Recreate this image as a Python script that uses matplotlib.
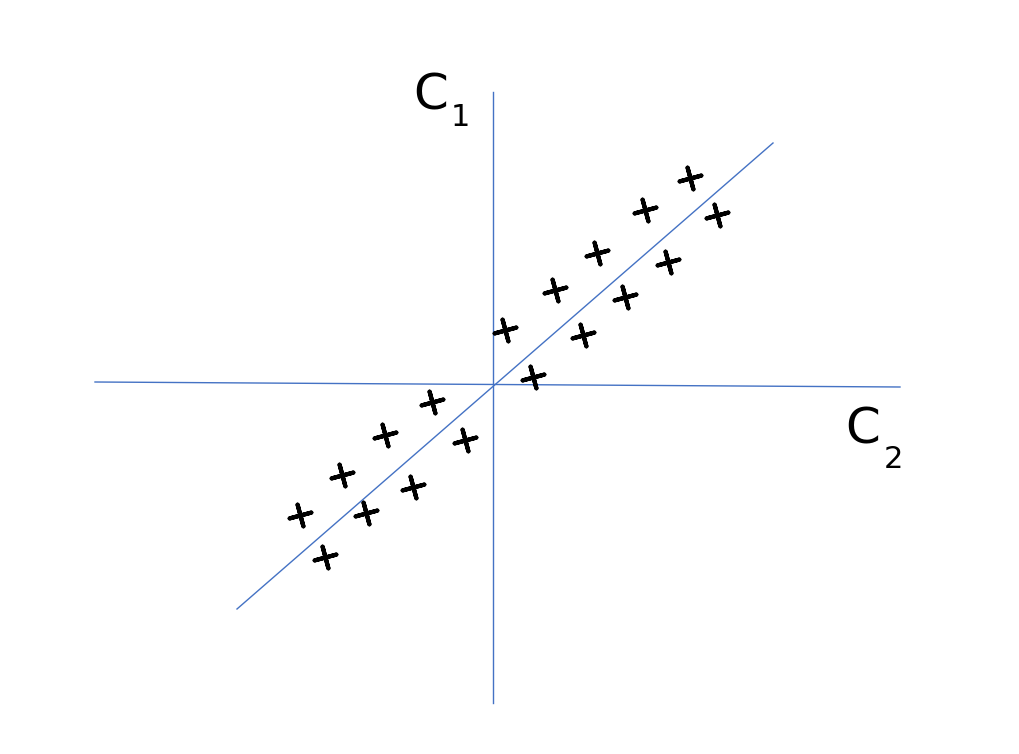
import matplotlib
matplotlib.use("Agg")
import matplotlib.pyplot as plt
import numpy as np

# sample points (C2 on x, C1 on y)
pts_x = [-1.93, -1.68, -1.51, -1.27, -1.08, -0.80, -0.61, -0.28,
         0.12, 0.40, 0.62, 0.90, 1.04, 1.32, 1.52, 1.75, 1.97, 2.24]
pts_y = [-1.32, -1.74, -0.92, -1.30, -0.52, -1.04, -0.19, -0.57,
         0.53, 0.06, 0.93, 0.48, 1.30, 0.86, 1.73, 1.21, 2.05, 1.68]

# axis lines and fitted direction
haxis_x = [-3.98, 4.07]
haxis_y = [0.01, -0.04]
vaxis_x = [0.0, 0.0]
vaxis_y = [2.91, -3.20]
diag_x = [-2.56, 2.80]
diag_y = [-2.26, 2.40]

blue = "#4472C4"

fig = plt.figure(figsize=(10.19, 7.54), dpi=100)
ax = fig.add_axes([0, 0, 1, 1])
ax.set_xlim(-4.93, 5.26)
ax.set_ylim(-3.71, 3.83)
ax.axis("off")

ax.plot(haxis_x, haxis_y, color=blue, lw=1.0)
ax.plot(vaxis_x, vaxis_y, color=blue, lw=1.0)
ax.plot(diag_x, diag_y, color=blue, lw=1.0)

ax.scatter(pts_x, pts_y, marker=(4, 2, 15), s=260, color="black",
           linewidths=3.0, zorder=3)

ax.text(-0.62, 2.88, "C", fontsize=36, ha="center", va="center", color="black")
ax.text(-0.33, 2.66, "1", fontsize=22, ha="center", va="center", color="black")
ax.text(3.70, -0.46, "C", fontsize=36, ha="center", va="center", color="black")
ax.text(4.00, -0.76, "2", fontsize=22, ha="center", va="center", color="black")

fig.savefig("out.png", dpi=100, facecolor="white")
